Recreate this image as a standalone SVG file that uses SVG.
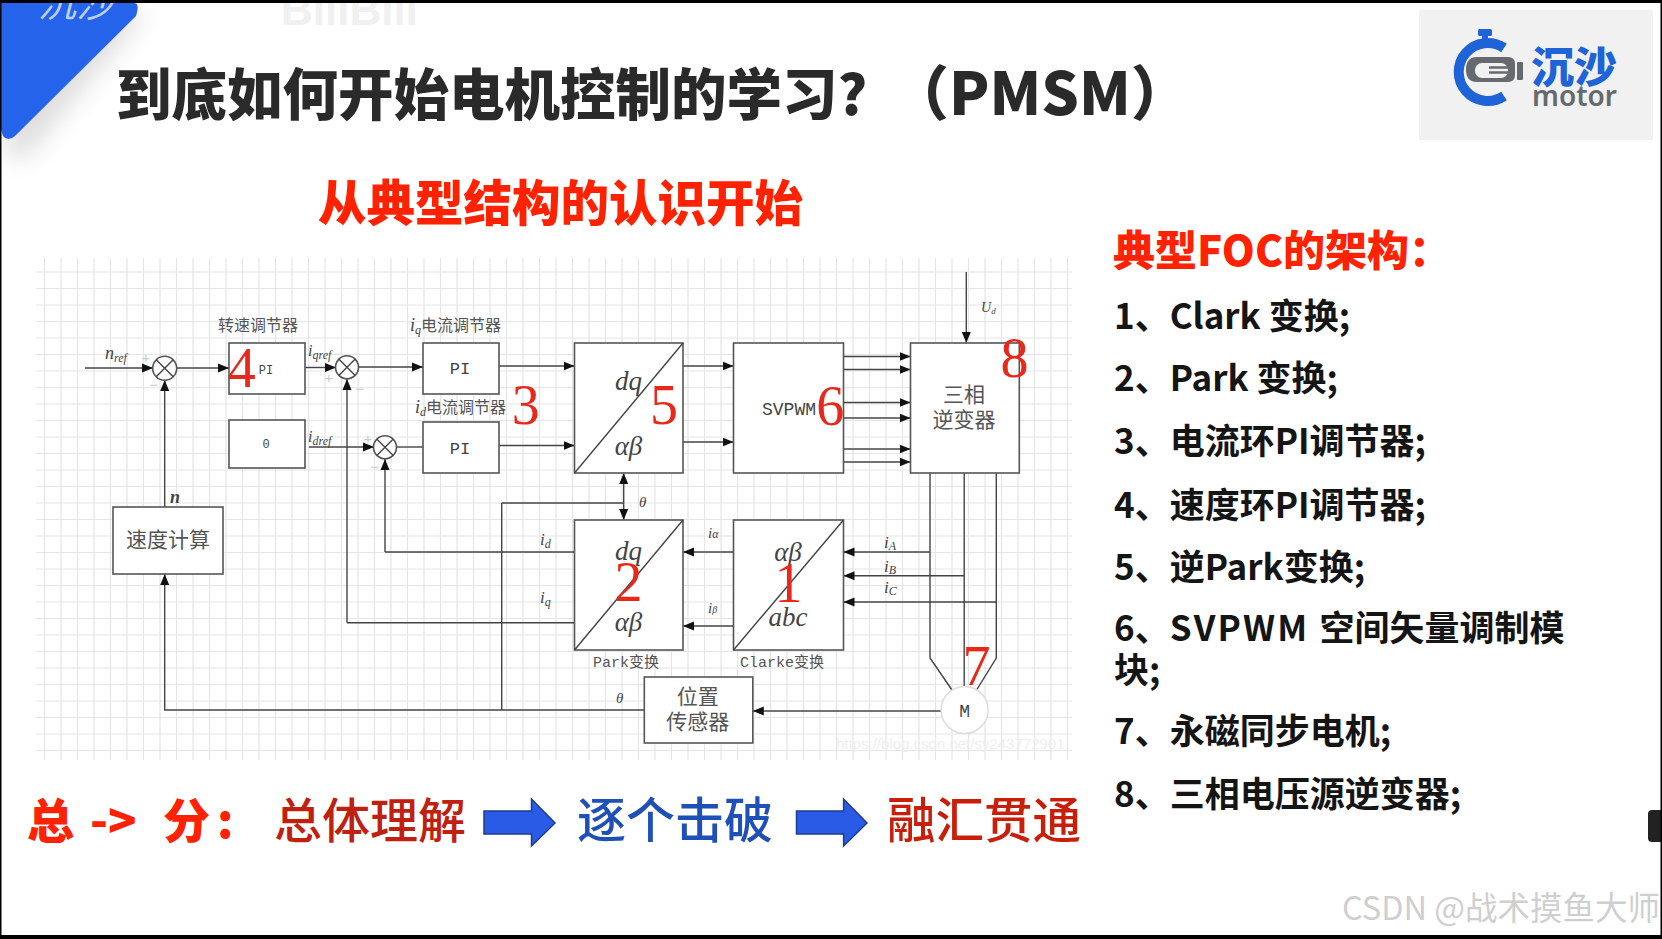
<svg xmlns="http://www.w3.org/2000/svg" width="1662" height="939" viewBox="0 0 1662 939">
<defs>
<style>
text{font-family:"Noto Sans","Noto Sans CJK SC",sans-serif}
.cjk{font-family:"Noto Sans CJK SC",sans-serif}
.grid{stroke:#e5e5e8;stroke-width:1.2}
.box{fill:#fff;stroke:#555;stroke-width:1.6}
.ln{fill:none;stroke:#444;stroke-width:1.4}
.ar{marker-end:url(#tip)}
.num{font-family:"Liberation Serif",serif;font-size:56px;fill:#e8281a;text-anchor:middle}
.mth{font-family:"Liberation Serif",serif;font-style:italic;fill:#444}
.bl{font-family:"Liberation Serif",serif;font-style:italic;fill:#444;font-size:27px;text-anchor:middle}
.mono{font-family:"Liberation Mono",monospace;fill:#444;text-anchor:middle}
.lab{font-family:"Noto Sans CJK SC",sans-serif;fill:#555;text-anchor:middle}
.pm{font-family:"Liberation Sans",sans-serif;font-size:15px;fill:#ccc;text-anchor:middle}
.li{font-family:"Noto Sans CJK SC",sans-serif;font-size:35px;font-weight:700;fill:#151515}
.big{fill:#2a5be6;stroke:#1b3d8f;stroke-width:1.5}
</style>
<marker id="tip" markerUnits="userSpaceOnUse" markerWidth="12" markerHeight="10" refX="11" refY="5" orient="auto-start-reverse"><path d="M0 0.5L11 5L0 9.5z" fill="#111"/></marker>
<filter id="sh" x="-30%" y="-30%" width="160%" height="160%"><feGaussianBlur stdDeviation="13"/></filter>
</defs>
<rect width="1662" height="939" fill="#fff"/>

<g id="corner">
<path d="M10 10L148 10L26 158L6 158z" fill="#000" opacity=".13" filter="url(#sh)"/>
<path d="M1 3H134Q140 3 136 16L15 136Q8 142 3 136L1 130z" fill="#2563eb"/>
<text x="38" y="17" class="cjk" font-size="38" font-style="italic" fill="#bdd0fa">沉沙</text>
<text x="281" y="25" font-size="44" font-weight="700" fill="#f0f0f0" style="font-family:'Liberation Sans',sans-serif">BiliBili</text>
</g>

<g id="title">
<text x="116" y="115" class="cjk" font-size="55.500" font-weight="900" fill="#2a2a2a">到底如何开始电机控制的学习?</text>
<text x="890" y="115" class="cjk" font-size="59" font-weight="900" fill="#2a2a2a">（PMSM）</text>
</g>
<text id="subtitle" x="318" y="221" class="cjk" font-size="48.500" font-weight="900" fill="#ff2200">从典型结构的认识开始</text>

<g id="logo">
<rect x="1419" y="10" width="234" height="130" fill="#f1f1f2"/>
<rect x="1478" y="29" width="14" height="7" rx="1.5" fill="#1f63d8"/><rect x="1482" y="35" width="6" height="6" fill="#1f63d8"/>
<path d="M1504 48A29 29 0 1 0 1504 96" fill="none" stroke="#1f63d8" stroke-width="10"/>
<path d="M1477 57H1508Q1515 57 1515 64V75Q1515 82 1508 82H1477Q1466 82 1466 69.500Q1466 57 1477 57z" fill="#666a6e"/>
<rect x="1517" y="62" width="6" height="18" rx="1" fill="#666a6e"/>
<rect x="1475" y="63" width="33" height="15" rx="7" fill="#f1f1f2"/>
<path d="M1489 67.500H1508M1489 72.500H1508" stroke="#666a6e" stroke-width="2.500"/>
<text x="1531" y="83" class="cjk" font-size="43" font-weight="900" fill="#1f63d8">沉沙</text>
<text x="1532" y="106" font-size="28" font-weight="600" fill="#666a6e">motor</text>
</g>

<g id="grid" class="grid">
<path id="grid-h" class="grid" fill="none" d="M36 272H1072M36 288.500H1072M36 305H1072M36 321.500H1072M36 338H1072M36 354.500H1072M36 371H1072M36 387.500H1072M36 404H1072M36 420.500H1072M36 437H1072M36 453.500H1072M36 470H1072M36 486.500H1072M36 503H1072M36 519.500H1072M36 536H1072M36 552.500H1072M36 569H1072M36 585.500H1072M36 602H1072M36 618.500H1072M36 635H1072M36 651.500H1072M36 668H1072M36 684.500H1072M36 701H1072M36 717.500H1072M36 734H1072M36 750.500H1072"/>
<path id="grid-v" class="grid" fill="none" d="M44.500 258V760M61 258V760M77.500 258V760M94 258V760M110.500 258V760M127 258V760M143.500 258V760M160 258V760M176.500 258V760M193 258V760M209.500 258V760M226 258V760M242.500 258V760M259 258V760M275.500 258V760M292 258V760M308.500 258V760M325 258V760M341.500 258V760M358 258V760M374.500 258V760M391 258V760M407.500 258V760M424 258V760M440.500 258V760M457 258V760M473.500 258V760M490 258V760M506.500 258V760M523 258V760M539.500 258V760M556 258V760M572.500 258V760M589 258V760M605.500 258V760M622 258V760M638.500 258V760M655 258V760M671.500 258V760M688 258V760M704.500 258V760M721 258V760M737.500 258V760M754 258V760M770.500 258V760M787 258V760M803.500 258V760M820 258V760M836.500 258V760M853 258V760M869.500 258V760M886 258V760M902.500 258V760M919 258V760M935.500 258V760M952 258V760M968.500 258V760M985 258V760M1001.500 258V760M1018 258V760M1034.500 258V760M1051 258V760M1067.500 258V760"/>
</g>
<text x="836" y="749" font-size="15" fill="#eeeeee" style="font-family:'Liberation Sans',sans-serif">https://blog.csdn.net/sy243772901</text>

<g id="connectors">
<path class="ln ar" d="M85 368H153"/>
<path class="ln ar" d="M176.500 368H229"/>
<path class="ln ar" d="M305 367.500H336"/>
<path class="ln ar" d="M358.500 367H423"/>
<path class="ln ar" d="M309 447H374"/>
<path class="ln" d="M396.500 447H423"/>
<path class="ln ar" d="M499 366H574.500"/>
<path class="ln ar" d="M499 445.500H574.500"/>
<path class="ln ar" d="M683 366H733.500"/>
<path class="ln ar" d="M683 442H733.500"/>
<path class="ln ar" d="M843.500 356.500H910.500"/>
<path class="ln ar" d="M843.500 369.500H910.500"/>
<path class="ln ar" d="M843.500 402.500H910.500"/>
<path class="ln ar" d="M843.500 418H910.500"/>
<path class="ln ar" d="M843.500 449H910.500"/>
<path class="ln ar" d="M843.500 462H910.500"/>
<path class="ln ar" d="M966.300 272V343"/>
<path class="ln ar" d="M164.700 507V380"/>
<path class="ln ar" d="M347 622.700V379"/>
<path class="ln ar" d="M385 552H574.500M385 552V459"/>
<path class="ln" d="M347 622.700H574.500"/>
<path class="ln" d="M501.700 503V710"/>
<path class="ln" d="M501.700 503H623.700"/>
<path class="ln" d="M623.700 473V520" marker-start="url(#tip)" marker-end="url(#tip)"/>
<path class="ln ar" d="M644.300 710H164.700V574"/>
<path class="ln ar" d="M733.500 552H683"/>
<path class="ln ar" d="M733.500 626H683"/>
<path class="ln ar" d="M930 552H843.500"/>
<path class="ln ar" d="M964.200 575.700H843.500"/>
<path class="ln ar" d="M996.300 602H843.500"/>
<path class="ln" d="M930 473V658L952 690"/>
<path class="ln" d="M964.200 473V688"/>
<path class="ln" d="M996.300 473V658L976.600 690"/>
<path class="ln ar" d="M941 711H752.800"/>
</g>

<g id="node-sum1"><circle cx="164.700" cy="368.300" r="12" class="box"/><path class="ln" d="M156.200 359.800L173.200 376.800M173.200 359.800L156.200 376.800"/><text x="146" y="363" class="pm">+</text><text x="154" y="390" class="pm">−</text></g>
<g id="node-sum2"><circle cx="347" cy="367.300" r="11.500" class="box"/><path class="ln" d="M339 359.300L355 375.300M355 359.300L339 375.300"/><text x="329" y="383" class="pm">+</text><text x="360" y="394" class="pm">−</text></g>
<g id="node-sum3"><circle cx="385" cy="447.300" r="11.500" class="box"/><path class="ln" d="M377 439.300L393 455.300M393 439.300L377 455.300"/><text x="368" y="444" class="pm">+</text><text x="375" y="472" class="pm">−</text></g>

<g id="node-speed-pi"><rect x="229" y="343" width="76" height="51" class="box"/><text x="266" y="374" class="mono" font-size="12">PI</text><text x="241.700" y="387" class="num">4</text><text x="258" y="331" class="lab" font-size="16">转速调节器</text></g>
<g id="node-zero"><rect x="229" y="420" width="76" height="48" class="box"/><text x="266" y="448" class="mono" font-size="12">0</text></g>
<g id="node-iq-pi"><rect x="423" y="343" width="76" height="51" class="box"/><text x="460" y="374" class="mono" font-size="17">PI</text><text x="410" y="331" class="mth" font-size="18">i<tspan font-size="12" dy="3">q</tspan><tspan dy="-3" class="cjk" font-style="normal" font-size="16" fill="#555">电流调节器</tspan></text></g>
<g id="node-id-pi"><rect x="423" y="422" width="76" height="51" class="box"/><text x="460" y="454" class="mono" font-size="17">PI</text><text x="415" y="413" class="mth" font-size="18">i<tspan font-size="12" dy="3">d</tspan><tspan dy="-3" class="cjk" font-style="normal" font-size="16" fill="#555">电流调节器</tspan></text><text x="525.700" y="424" class="num">3</text></g>
<g id="node-inv-park"><rect x="574.500" y="343" width="108.500" height="130" class="box"/><path class="ln" d="M574.500 473L683 343"/><text x="628.500" y="390" class="bl">dq</text><text x="628.500" y="455" class="bl">αβ</text><text x="664" y="424" class="num">5</text></g>
<g id="node-svpwm"><rect x="733.500" y="343" width="110" height="130" class="box"/><text x="789" y="415" class="mono" font-size="18">SVPWM</text><text x="830.300" y="424.700" class="num">6</text></g>
<g id="node-inverter"><rect x="910.500" y="343" width="108.800" height="130" class="box"/><text x="964" y="402" class="lab" font-size="21">三相</text><text x="964" y="427" class="lab" font-size="21">逆变器</text><text x="1014.500" y="376.700" class="num">8</text><text x="981" y="312" class="mth" font-size="14">U<tspan font-size="9" dy="2">d</tspan></text></g>
<g id="node-park"><rect x="574.500" y="520" width="108.500" height="130" class="box"/><path class="ln" d="M574.500 650L683 520"/><text x="628.500" y="560" class="bl">dq</text><text x="628.500" y="631" class="bl">αβ</text><text x="628.500" y="601" class="num">2</text><text x="626" y="667" class="lab" font-size="15" style="font-family:'Liberation Mono','Noto Sans CJK SC',monospace">Park变换</text></g>
<g id="node-clarke"><rect x="733.500" y="520" width="110" height="130" class="box"/><path class="ln" d="M733.500 650L843.500 520"/><text x="788" y="561" class="bl">αβ</text><text x="788" y="626" class="bl">abc</text><text x="788.600" y="602" class="num">1</text><text x="782" y="667" class="lab" font-size="15" style="font-family:'Liberation Mono','Noto Sans CJK SC',monospace">Clarke变换</text></g>
<g id="node-speed-calc"><rect x="113" y="507" width="110" height="67" class="box"/><text x="168" y="547" class="lab" font-size="21">速度计算</text></g>
<g id="node-sensor"><rect x="644.300" y="677" width="108.500" height="66" class="box"/><text x="697.700" y="704" class="lab" font-size="21">位置</text><text x="697.700" y="729" class="lab" font-size="21">传感器</text></g>
<g id="node-motor"><circle cx="964.600" cy="710" r="23.500" fill="#fff" stroke="#ddd" stroke-width="1.500"/><text x="964.600" y="717" class="mono" font-size="18">M</text><text x="976.600" y="685" class="num">7</text></g>

<g id="signal-labels">
<text x="105" y="359" class="mth" font-size="18">n<tspan font-size="12" dy="3">ref</tspan></text>
<text x="308" y="356" class="mth" font-size="16">i<tspan font-size="12" dy="3">qref</tspan></text>
<text x="308" y="442" class="mth" font-size="16">i<tspan font-size="12" dy="3">dref</tspan></text>
<text x="170" y="503" class="mth" font-size="18" font-weight="bold">n</text>
<text x="540" y="545" class="mth" font-size="17">i<tspan font-size="12" dy="3">d</tspan></text>
<text x="540" y="603" class="mth" font-size="17">i<tspan font-size="12" dy="3">q</tspan></text>
<text x="708" y="538" class="mth" font-size="15">i<tspan font-size="12">α</tspan></text>
<text x="708" y="613" class="mth" font-size="15">i<tspan font-size="10">β</tspan></text>
<text x="884" y="548" class="mth" font-size="17">i<tspan font-size="12" dy="2">A</tspan></text>
<text x="884" y="572" class="mth" font-size="17">i<tspan font-size="12" dy="2">B</tspan></text>
<text x="884" y="593" class="mth" font-size="17">i<tspan font-size="12" dy="2">C</tspan></text>
<text x="639" y="507" class="mth" font-size="15">θ</text>
<text x="616" y="703" class="mth" font-size="15">θ</text>
</g>

<g id="foc-list">
<text x="1113" y="266" class="cjk" font-size="42" font-weight="900" fill="#ff2200">典型FOC的架构：</text>
<text x="1114" y="329" class="li">1、Clark 变换;</text>
<text x="1114" y="391" class="li">2、Park 变换;</text>
<text x="1114" y="454" class="li">3、电流环PI调节器;</text>
<text x="1114" y="517.500" class="li">4、速度环PI调节器;</text>
<text x="1114" y="580" class="li">5、逆Park变换;</text>
<text x="1114" y="641" class="li">6、<tspan letter-spacing="2.200">SVPWM </tspan>空间矢量调制模</text>
<text x="1114" y="683" class="li">块;</text>
<text x="1114" y="744" class="li">7、永磁同步电机;</text>
<text x="1114" y="807" class="li">8、三相电压源逆变器;</text>
</g>

<g id="bottom-row">
<text y="838" class="cjk" font-size="47" font-weight="900" fill="#ff2200"><tspan x="27">总</tspan><tspan x="90">-&gt;</tspan><tspan x="163">分</tspan><tspan x="217">:</tspan></text>
<text x="274" y="838" class="cjk" font-size="48" font-weight="500" fill="#c0200f">总体理解</text>
<path class="big" d="M484 811H531.500V799L555 823L531.500 846V834H484z"/>
<text x="577" y="838" class="cjk" font-size="49" font-weight="500" fill="#1f50b8">逐个击破</text>
<path class="big" d="M796.500 811H843.600V799L867 823L843.600 846V834H796.500z"/>
<text x="887" y="838" class="cjk" font-size="48.500" font-weight="500" fill="#c81e0a">融汇贯通</text>
</g>

<text id="watermark" x="1342" y="920" class="cjk" font-size="32.500" fill="#cfcfcf">CSDN @战术摸鱼大师</text>
<rect id="side-handle" x="1648" y="810" width="16" height="32" rx="4" fill="#222"/>

<g id="frame" fill="#000">
<rect x="0" y="0" width="1662" height="3"/>
<rect x="0" y="935" width="1662" height="4"/>
<rect x="0" y="0" width="1.500" height="939"/>
<rect x="1660.500" y="0" width="1.500" height="939"/>
</g>
</svg>
